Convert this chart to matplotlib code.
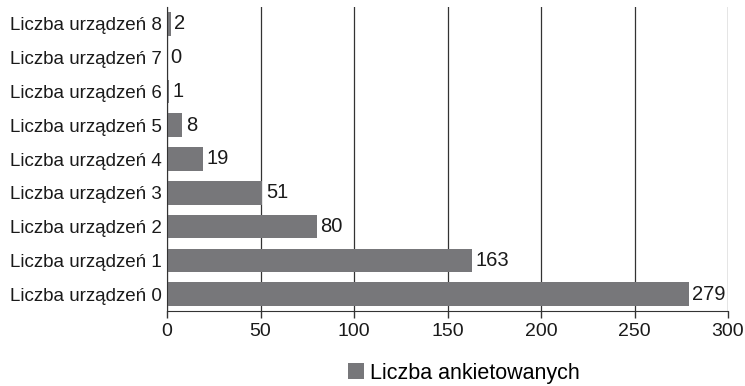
import matplotlib
matplotlib.use("Agg")
import matplotlib.pyplot as plt
from matplotlib.patches import Patch

plt.rcParams['font.family'] = ['Liberation Sans', 'DejaVu Sans']

categories = [f"Liczba urządzeń {i}" for i in range(9)]
values = [279, 163, 80, 51, 19, 8, 1, 0, 2]
series_name = "Liczba ankietowanych"
xticks = [0, 50, 100, 150, 200, 250, 300]

bar_color = "#77777a"
line_color = "#333333"
text_color = "#1a1a1a"

fig = plt.figure(figsize=(7.45, 3.86), dpi=100)
ax = fig.add_axes([167 / 745, 1 - 311 / 386, (728 - 167) / 745, (311 - 7) / 386])

y = list(range(len(categories)))
ax.barh(y, values, height=0.7, color=bar_color, zorder=2)
for yi, v in zip(y, values):
    ax.text(v + 2, yi, str(v), va="center", ha="left", fontsize=14.5, color=text_color)

ax.set_xlim(0, 300)
ax.set_ylim(-0.5, len(categories) - 0.5)
ax.set_xticks(xticks)
ax.set_xticklabels([str(t) for t in xticks], fontsize=14, color=text_color)
ax.set_yticks(y)
ax.set_yticklabels(categories, fontsize=13.5, color=text_color)
ax.tick_params(axis="y", length=0, pad=4)
ax.tick_params(axis="x", length=5, width=1, color=line_color, pad=4)

ax.grid(axis="x", color=line_color, linewidth=0.9, zorder=0)
for s in ["top", "right"]:
    ax.spines[s].set_visible(False)
ax.spines["left"].set_color(line_color)
ax.spines["bottom"].set_color(line_color)
ax.spines["left"].set_zorder(3)

fig.legend(handles=[Patch(facecolor=bar_color, edgecolor="none")], labels=[series_name],
           loc="center", bbox_to_anchor=(464 / 745, 1 - 373 / 386), frameon=False,
           fontsize=15.5, handlelength=0.75, handleheight=0.75, handletextpad=0.3)

fig.savefig("out.png", dpi=100)
